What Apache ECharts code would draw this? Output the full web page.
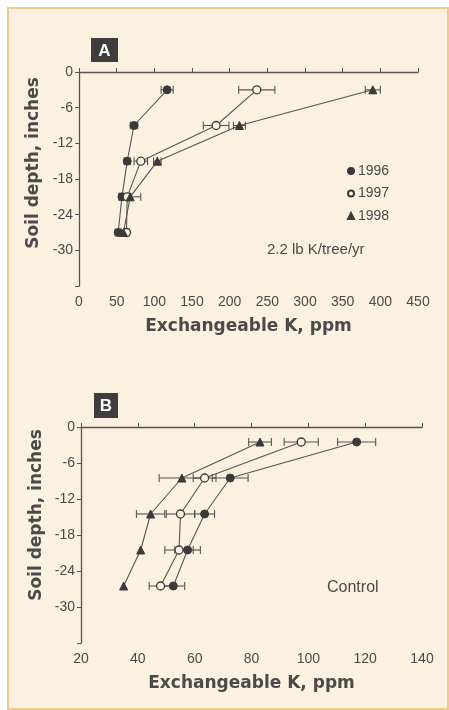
<!DOCTYPE html>
<html>
<head>
<meta charset="utf-8">
<script src="https://cdn.jsdelivr.net/npm/echarts@6/dist/echarts.min.js"></script>
<style>
  html, body { margin: 0; padding: 0; background: #ffffff; }
  #panel { position: absolute; left: 7px; top: 7px; width: 438px; height: 699px;
           border: 2px solid #f1c98c; background: #fbf1e1; }
  #chart { position: absolute; left: 0; top: 0; width: 449px; height: 710px; }
</style>
</head>
<body>
<div id="panel"></div>
<div id="chart"></div>
<script>
// ---------- data ----------
const years = ['1996', '1997', '1998'];
const yTicks = [0, -6, -12, -18, -24, -30];

// Panel A: 2.2 lb K/tree/yr
const depthA = [-3, -9, -15, -21, -27];
const kA1996 = [117, 73, 64, 57, 52];
const kA1997 = [236, 182, 82, 64, 63];
const kA1998 = [390, 213, 104, 68, 59];
const errA1996 = [8, 5, 4, 4, 4];
const errA1997 = [24, 17, 9, 5, 4];
const errA1998 = [10, 8, 5, 14, 4];

// Panel B: Control
const depthB = [-2.5, -8.5, -14.5, -20.5, -26.5];
const kB1996 = [117, 72.5, 63.5, 57.5, 52.5];
const kB1997 = [97.5, 63.5, 55, 54.5, 48];
const kB1998 = [83, 55.5, 44.5, 41, 35];
const errB1996 = [6.7, 6.3, 3.5, 4.5, 4];
const errB1997 = [6, 4, 5, 5, 4];
const errB1998 = [4, 8, 5, 0, 0];

// ---------- styling ----------
const ink = '#3a3a3a';
const lineInk = '#555555';
const textInk = '#4a4a4a';
const cream = '#fbf1e1';
const tickFont = '"Liberation Sans", Arial, sans-serif';
const heavy = '"DejaVu Sans", sans-serif';

const markers = {
  '1996': { symbol: 'circle', symbolSize: 8, itemStyle: { color: ink, borderColor: ink, borderWidth: 1 } },
  '1997': { symbol: 'circle', symbolSize: 8, itemStyle: { color: cream, borderColor: ink, borderWidth: 1.3 } },
  '1998': { symbol: 'triangle', symbolSize: 8, itemStyle: { color: ink, borderColor: ink, borderWidth: 1 } }
};

function pairs(xs, ys) { return xs.map((x, i) => [x, ys[i]]); }
function triples(xs, ys, es) { return xs.map((x, i) => [x, ys[i], es[i]]); }

function lineSeries(name, xs, ys, idx) {
  return Object.assign({
    name: name, type: 'line', xAxisIndex: idx, yAxisIndex: idx,
    data: pairs(xs, ys), z: 5,
    lineStyle: { color: lineInk, width: 1.1 },
    emphasis: { disabled: true }, animation: false
  }, markers[name]);
}

function errSeries(name, xs, ys, es, idx) {
  return {
    name: name, type: 'custom', xAxisIndex: idx, yAxisIndex: idx,
    data: triples(xs, ys, es), z: 4, animation: false,
    itemStyle: markers[name].itemStyle,
    renderItem: function (params, api) {
      const x = api.value(0), y = api.value(1), e = api.value(2);
      if (!e) return null;
      const a = api.coord([x - e, y]);
      const b = api.coord([x + e, y]);
      const h = 4;
      const st = { stroke: lineInk, lineWidth: 1.1 };
      return {
        type: 'group',
        children: [
          { type: 'line', shape: { x1: a[0], y1: a[1], x2: b[0], y2: b[1] }, style: st },
          { type: 'line', shape: { x1: a[0], y1: a[1] - h, x2: a[0], y2: a[1] + h }, style: st },
          { type: 'line', shape: { x1: b[0], y1: b[1] - h, x2: b[0], y2: b[1] + h }, style: st }
        ]
      };
    }
  };
}

function xAxisCfg(idx, min, max, interval) {
  return {
    gridIndex: idx, type: 'value', min: min, max: max, interval: interval,
    name: 'Exchangeable K, ppm', nameLocation: 'middle', nameGap: 32,
    nameTextStyle: { fontFamily: heavy, fontWeight: 'bold', fontSize: 17, color: textInk },
    axisLine: { lineStyle: { color: lineInk, width: 1.3 } },
    axisTick: { inside: true, length: 4, lineStyle: { color: lineInk } },
    axisLabel: { color: textInk, fontSize: 14, fontFamily: tickFont, margin: 9 },
    splitLine: { show: false }
  };
}

function yAxisCfg(idx) {
  return {
    gridIndex: idx, type: 'value', min: -36, max: 0, interval: 6,
    axisLine: { lineStyle: { color: lineInk, width: 1.3 } },
    axisTick: { length: 4, lineStyle: { color: lineInk } },
    axisLabel: {
      color: textInk, fontSize: 14, fontFamily: tickFont, margin: 6,
      formatter: v => (yTicks.indexOf(v) >= 0 ? String(v) : '')
    },
    splitLine: { show: false }
  };
}

function letterBox(letter, x, y, w, h) {
  return {
    type: 'group', left: x, top: y,
    children: [
      { type: 'rect', shape: { x: 0, y: 0, width: w, height: h }, style: { fill: '#3d3d3d' } },
      { type: 'text', x: w / 2, y: h / 2 + 1,
        style: { text: letter, fill: '#ffffff', font: 'bold 17px ' + tickFont, textAlign: 'center', textVerticalAlign: 'middle' } }
    ]
  };
}

function yName(x, y) {
  return {
    type: 'text', x: x, y: y, rotation: Math.PI / 2,
    style: { text: 'Soil depth, inches', fill: textInk, font: 'bold 17px ' + heavy,
             textAlign: 'center', textVerticalAlign: 'middle' }
  };
}

const chart = echarts.init(document.getElementById('chart'), null, { renderer: 'canvas' });
chart.setOption({
  backgroundColor: 'transparent',
  animation: false,
  grid: [
    { left: 79, top: 72, width: 339, height: 214 },
    { left: 81, top: 427, width: 341, height: 216 }
  ],
  xAxis: [xAxisCfg(0, 0, 450, 50), xAxisCfg(1, 20, 140, 20)],
  yAxis: [yAxisCfg(0), yAxisCfg(1)],
  legend: {
    left: 342, top: 159, orient: 'vertical', itemGap: 8.5,
    itemWidth: 6, itemHeight: 6, selectedMode: false,
    textStyle: { color: textInk, fontSize: 14, lineHeight: 14, fontFamily: tickFont, padding: [0, 0, 0, -1] },
    data: [
      { name: '1996', icon: 'circle' },
      { name: '1997', icon: 'circle' },
      { name: '1998', icon: 'triangle' }
    ]
  },
  graphic: [
    letterBox('A', 91, 38, 27, 24),
    letterBox('B', 94, 393, 24, 25),
    yName(34, 163),
    yName(37, 515),
    { type: 'text', left: 267, top: 242,
      style: { text: '2.2 lb K/tree/yr', fill: textInk, font: '15px ' + tickFont } },
    { type: 'text', left: 327, top: 580,
      style: { text: 'Control', fill: textInk, font: '16px ' + tickFont } }
  ],
  series: [
    lineSeries('1996', kA1996, depthA, 0),
    lineSeries('1997', kA1997, depthA, 0),
    lineSeries('1998', kA1998, depthA, 0),
    errSeries('1996', kA1996, depthA, errA1996, 0),
    errSeries('1997', kA1997, depthA, errA1997, 0),
    errSeries('1998', kA1998, depthA, errA1998, 0),
    lineSeries('1996', kB1996, depthB, 1),
    lineSeries('1997', kB1997, depthB, 1),
    lineSeries('1998', kB1998, depthB, 1),
    errSeries('1996', kB1996, depthB, errB1996, 1),
    errSeries('1997', kB1997, depthB, errB1997, 1),
    errSeries('1998', kB1998, depthB, errB1998, 1)
  ]
});
</script>
</body>
</html>
